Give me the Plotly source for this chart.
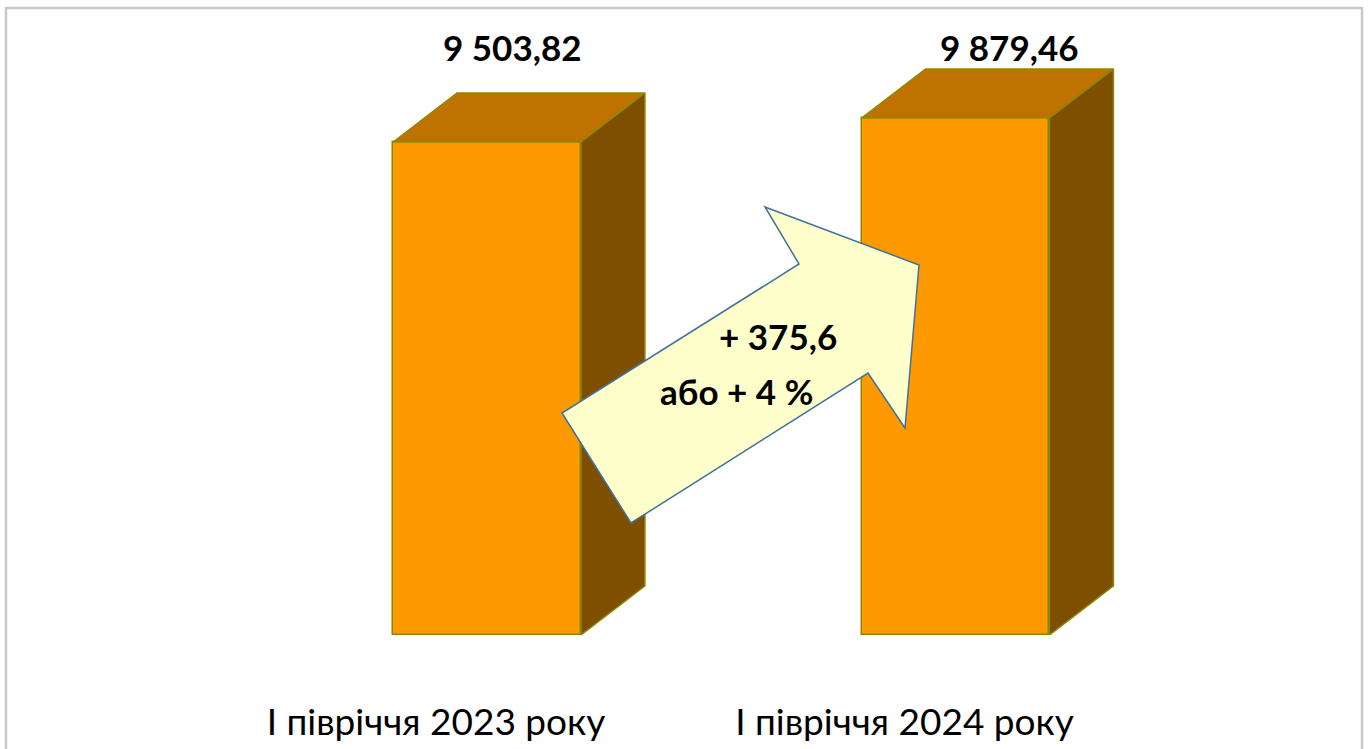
import plotly.graph_objects as go

# ---- data ----
categories = ["І півріччя 2023 року", "І півріччя 2024 року"]
values = [9503.82, 9879.46]
value_labels = ["9 503,82", "9 879,46"]
change_abs = "+ 375,6"
change_pct = "або + 4 %"

# ---- style / geometry settings ----
axis_floor = 1787.4        # value axis minimum (as in original chart)
axis_top = 11726.4
bar_w = 0.401              # front face width (category units)
depth_dx = 0.1366          # 3D depth offset, category units
depth_dy = 767.0           # 3D depth offset, value units
label_shift = -0.109       # category label offset
value_label_xshift = [25, 54]

FRONT = "#FF9900"
TOP = "#C07200"
SIDE = "#7F4F00"
EDGE = "#8A8A00"
FONT = "Lato"

fig = go.Figure()
xs = list(range(len(categories)))

# front faces
fig.add_trace(go.Bar(
    x=xs, y=[v - axis_floor for v in values], base=[axis_floor] * len(values),
    width=bar_w, marker=dict(color=FRONT, line=dict(color=EDGE, width=1.5)),
    hoverinfo="skip", showlegend=False))

# top & side faces
for i, v in zip(xs, values):
    l, r = i - bar_w / 2, i + bar_w / 2
    fig.add_trace(go.Scatter(
        x=[l, r, r + depth_dx, l + depth_dx, l],
        y=[v, v, v + depth_dy, v + depth_dy, v],
        mode="lines", fill="toself", fillcolor=TOP,
        line=dict(color=EDGE, width=1.5), hoverinfo="skip", showlegend=False))
    fig.add_trace(go.Scatter(
        x=[r, r, r + depth_dx, r + depth_dx, r],
        y=[axis_floor, v, v + depth_dy, axis_floor + depth_dy, axis_floor],
        mode="lines", fill="toself", fillcolor=SIDE,
        line=dict(color=EDGE, width=1.5), hoverinfo="skip", showlegend=False))

# value labels
for i, txt, xs_ in zip(xs, value_labels, value_label_xshift):
    fig.add_annotation(x=i, xshift=xs_, y=0.926, yref="paper", text=f"<b>{txt}</b>",
                       showarrow=False, font=dict(family=FONT, size=35, color="black"),
                       xanchor="center", yanchor="middle")

W, H = 1369, 749
B = 114
PH = H - B


def px(x):
    return x / W


def py(y):
    return (PH - y) / PH


# arrow (decoration) in paper coordinates from pixel positions
arrow_pts = [(562, 413), (631, 523), (868, 373), (905, 428), (919, 265), (765, 207), (799, 264)]
path = "M " + " L ".join(f"{px(x):.5f},{py(y):.5f}" for x, y in arrow_pts) + " Z"
fig.add_shape(type="path", path=path, xref="paper", yref="paper",
              fillcolor="#FFFFCC", line=dict(color="#41719C", width=1.5), layer="above")

fig.add_annotation(x=px(778), y=py(336), xref="paper", yref="paper", text=f"<b>{change_abs}</b>",
                   showarrow=False, font=dict(family=FONT, size=35, color="black"),
                   xanchor="center", yanchor="middle")
fig.add_annotation(x=px(736), y=py(391), xref="paper", yref="paper", text=f"<b>{change_pct}</b>",
                   showarrow=False, font=dict(family=FONT, size=35, color="black"),
                   xanchor="center", yanchor="middle")

# outer border
fig.add_shape(type="rect", xref="paper", yref="paper",
              x0=px(6), x1=px(1362), y0=py(760), y1=py(8),
              line=dict(color="#C8C8C8", width=2.5), layer="below")

fig.update_layout(
    width=W, height=H,
    margin=dict(l=0, r=0, t=0, b=B),
    paper_bgcolor="white", plot_bgcolor="white",
    bargap=0,
    xaxis=dict(range=[-1.0395, 1.8826], tickvals=[i + label_shift for i in xs],
               ticktext=categories, showgrid=False, zeroline=False, showline=False,
               ticks="", ticklabelstandoff=62,
               tickfont=dict(family=FONT, size=37, color="black"), fixedrange=True),
    yaxis=dict(range=[axis_floor, axis_top], visible=False, fixedrange=True),
    showlegend=False,
)

fig.write_html("out.html", config={"displayModeBar": False},
               post_script="document.body.style.margin='0';")
